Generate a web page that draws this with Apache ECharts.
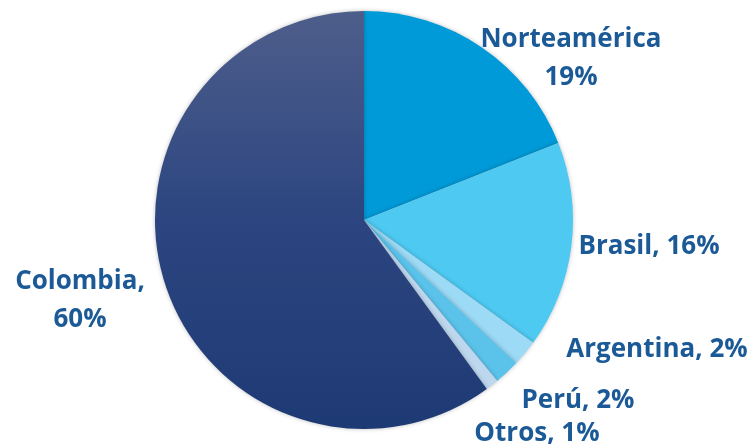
<!DOCTYPE html>
<html><head><meta charset="utf-8">
<script src="https://cdn.jsdelivr.net/npm/echarts@6/dist/echarts.min.js"></script>
<style>html,body{margin:0;padding:0;background:#fff}#c{width:754px;height:445px}</style>
</head><body><div id="c"></div>
<script>
const categories = ['Norteamérica', 'Brasil', 'Argentina', 'Perú', 'Otros', 'Colombia'];
const values = [19, 16, 2, 2, 1, 60];
const labelTexts = ['Norteamérica\n19%', 'Brasil, 16%', 'Argentina, 2%', 'Perú, 2%', 'Otros, 1%', 'Colombia,\n60%'];

const colors = ['#009AD8', '#4DC9F2', '#9CDAF5', '#5BC2EA', '#BDD7EE',
  new echarts.graphic.LinearGradient(0, 0, 0, 1, [{offset: 0, color: '#4E5E8B'}, {offset: 0.5, color: '#2C4580'}, {offset: 1, color: '#1E3A74'}])];
const labelPos = [[571, 59], [649, 247], [657, 350], [578, 401], [537, 434], [80, 301]];

const chart = echarts.init(document.getElementById('c'));
chart.setOption({
  animation: false,
  series: [{
    type: 'pie',
    center: [364, 220],
    radius: 209,
    startAngle: 90,
    clockwise: true,
    avoidLabelOverlap: false,
    data: categories.map((n, i) => ({name: n, value: values[i], itemStyle: {color: colors[i]}})),
    itemStyle: {borderWidth: 0, shadowBlur: 4, shadowColor: 'rgba(0,0,0,0.25)'},
    label: {
      show: true,
      position: 'outside',
      formatter: p => labelTexts[p.dataIndex],
      color: '#1B5A96',
      fontFamily: 'Open Sans',
      fontWeight: 'bold',
      fontSize: 26,
      lineHeight: 38,
      align: 'center'
    },
    labelLine: {show: false},
    labelLayout: p => ({x: labelPos[p.dataIndex][0], y: labelPos[p.dataIndex][1], align: 'center', verticalAlign: 'middle'})
  }]
});
</script></body></html>
